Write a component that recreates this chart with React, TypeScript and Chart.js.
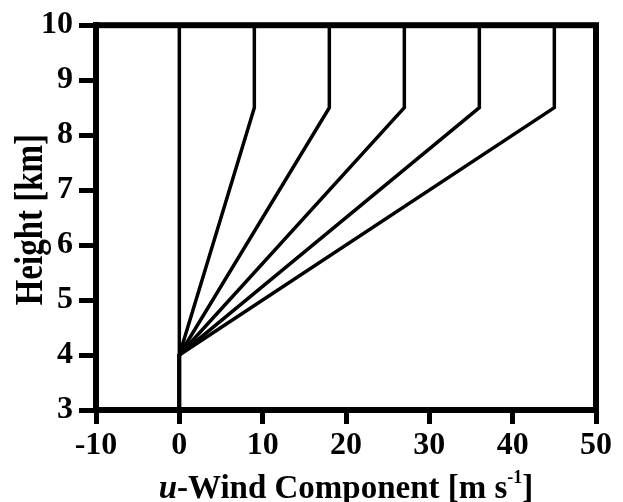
import React, { useEffect, useRef } from 'react';
import { Chart, registerables } from 'chart.js';

Chart.register(...registerables);

// ---- data ----
const topWinds = [0, 9, 18, 27, 36, 45]; // u at top of shear layer [m/s]
const surfaceWind = 0;
const surfaceHeight = 3; // km
const shearBaseHeight = 4; // km
const shearTopHeight = 8.5; // km
const modelTopHeight = 10; // km
const xTickValues = [-10, 0, 10, 20, 30, 40, 50];
const yTickValues = [3, 4, 5, 6, 7, 8, 9, 10];

const FONT = "'Liberation Serif', 'Times New Roman', serif";

const titlePlugin = {
  id: 'customTitles',
  afterDatasetsDraw(chart: any) {
    const { ctx, chartArea } = chart;
    const { left, right, top, bottom } = chartArea;
    ctx.save();
    // frame
    ctx.strokeStyle = '#000';
    ctx.lineWidth = 6;
    ctx.lineJoin = 'miter';
    ctx.strokeRect(left, top, right - left, bottom - top);
    ctx.restore();
  },
  afterDraw(chart: any) {
    const { ctx, chartArea } = chart;
    const { left, right, top, bottom } = chartArea;
    ctx.save();
    ctx.fillStyle = '#000';
    ctx.textBaseline = 'alphabetic';
    // x title with italic u and superscript
    const segs = [
      { t: 'u', f: `italic bold 33px ${FONT}`, dy: 0 },
      { t: '-Wind Component [m s', f: `bold 33px ${FONT}`, dy: 0 },
      { t: '-1', f: `bold 18px ${FONT}`, dy: -15 },
      { t: ']', f: `bold 33px ${FONT}`, dy: 0 },
    ];
    let total = 0;
    const widths = segs.map((s) => {
      ctx.font = s.f;
      const w = ctx.measureText(s.t).width;
      total += w;
      return w;
    });
    let x = (left + right) / 2 - total / 2;
    const baseY = 498;
    segs.forEach((s, i) => {
      ctx.font = s.f;
      ctx.textAlign = 'left';
      ctx.fillText(s.t, x, baseY + s.dy);
      x += widths[i];
    });
    // y title
    ctx.save();
    ctx.translate(42, (top + bottom) / 2 + 2);
    ctx.rotate(-Math.PI / 2);
    ctx.scale(1, 1.2);
    ctx.font = `bold 33px ${FONT}`;
    ctx.textAlign = 'center';
    ctx.fillText('Height [km]', 0, 0);
    ctx.restore();
    ctx.restore();
  },
};

export default function App() {
  const canvasRef = useRef<HTMLCanvasElement | null>(null);

  useEffect(() => {
    if (!canvasRef.current) return;
    const datasets = topWinds.map((w) => ({
      label: `u_top=${w}`,
      data: [
        { x: surfaceWind, y: surfaceHeight },
        { x: surfaceWind, y: shearBaseHeight },
        { x: w, y: shearTopHeight },
        { x: w, y: modelTopHeight },
      ],
      showLine: true,
      borderColor: '#000',
      backgroundColor: '#000',
      borderWidth: 3.5,
      pointRadius: 0,
      borderJoinStyle: 'miter' as const,
      tension: 0,
      fill: false,
    }));

    const chart = new Chart(canvasRef.current, {
      type: 'scatter',
      data: { datasets },
      plugins: [titlePlugin],
      options: {
        animation: false,
        responsive: false,
        devicePixelRatio: 1,
        layout: { padding: { top: 22, right: 27, left: 0, bottom: 0 } },
        plugins: { legend: { display: false }, tooltip: { enabled: false } },
        scales: {
          x: {
            type: 'linear',
            min: -10,
            max: 50,
            afterBuildTicks: (scale: any) => {
              scale.ticks = xTickValues.map((v) => ({ value: v }));
            },
            afterFit: (scale: any) => {
              scale.height = 92;
            },
            ticks: {
              color: '#000',
              font: { family: FONT, size: 32, weight: 'bold' },
              padding: 3,
              maxRotation: 0,
              autoSkip: false,
            },
            grid: {
              drawOnChartArea: false,
              drawTicks: true,
              tickLength: 14,
              tickWidth: 5,
              tickColor: '#000',
              color: '#000',
            },
            border: { display: true, color: '#000', width: 6 },
          },
          y: {
            type: 'linear',
            min: 3,
            max: 10,
            afterBuildTicks: (scale: any) => {
              scale.ticks = yTickValues.map((v) => ({ value: v }));
            },
            afterFit: (scale: any) => {
              scale.width = 96;
            },
            ticks: {
              color: '#000',
              font: { family: FONT, size: 32, weight: 'bold' },
              padding: 6,
              autoSkip: false,
            },
            grid: {
              drawOnChartArea: false,
              drawTicks: true,
              tickLength: 17,
              tickWidth: 5,
              tickColor: '#000',
              color: '#000',
            },
            border: { display: true, color: '#000', width: 6 },
          },
        },
      },
    });
    return () => chart.destroy();
  }, []);

  return (
    <div style={{ position: 'fixed', left: 0, top: 0, width: 623, height: 502, background: '#fff' }}>
      <canvas ref={canvasRef} width={623} height={502} style={{ display: 'block' }} />
    </div>
  );
}
